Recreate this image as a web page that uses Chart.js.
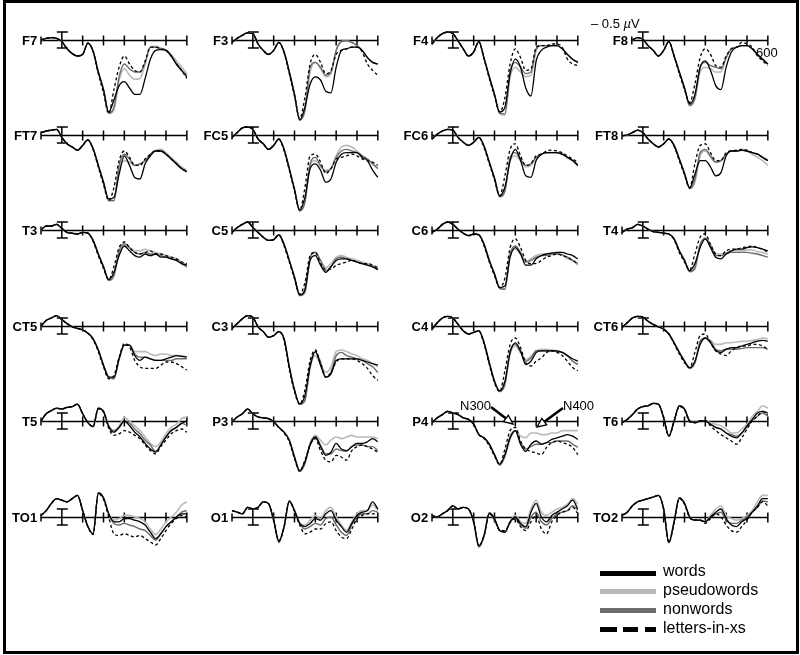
<!DOCTYPE html>
<html><head><meta charset="utf-8">
<script src="https://cdn.jsdelivr.net/npm/chart.js@4"></script>
<style>
html,body{margin:0;padding:0;background:#fff;}
#stage{position:relative;width:800px;height:655px;overflow:hidden;font-family:"Liberation Sans",Arial,Helvetica,sans-serif;color:#000;}
#frame{position:absolute;left:3px;top:0;width:796px;height:654px;border:3px solid #000;box-sizing:border-box;}
.panel{position:absolute;}
.lab{position:absolute;font-weight:bold;font-size:13px;line-height:13px;text-align:right;width:40px;white-space:nowrap;}
.txt{position:absolute;font-size:13px;line-height:13px;white-space:nowrap;}
.leg{position:absolute;font-size:16px;line-height:16px;white-space:nowrap;}
.sw{position:absolute;height:5px;}
svg{position:absolute;left:0;top:0;}
</style></head>
<body>
<div id="stage">
  <div id="frame"></div>
</div>
<script>
// ---------- data ----------
const times = [-100,-75,-50,-25,0,25,50,75,100,125,150,175,200,225,250,275,300,325,350,375,400,425,450,475,500,525,550,575,600];
const electrodes = ['F7','F3','F4','F8','FT7','FC5','FC6','FT8','T3','C5','C6','T4','CT5','C3','C4','CT6','T5','P3','P4','T6','TO1','O1','O2','TO2'];
const conditions = ['words','pseudowords','nonwords','letters-in-xs'];
const axisTicks = [100,200,300,400,500,600];
const scaleBarUV = 0.5;

// amplitudes in microvolts (negative up)
const F7_w = [0,-0.1,-0.15,-0.1,0.1,0.55,0.85,1.0,0.9,0.2,0.7,2.0,3.1,4.5,3.75,2.85,2.6,3.0,3.4,3.4,2.4,1.2,0.65,0.6,0.65,1.0,1.5,1.9,2.3];
const F7_p = [0,-0.1,-0.15,-0.1,0.1,0.55,0.85,1.0,0.9,0.2,0.7,2.0,3.1,4.6,4.4,2.5,1.8,2.2,2.45,2.4,1.5,0.45,0.4,0.5,0.6,0.9,1.3,1.7,2.1];
const F7_n = [0,-0.1,-0.15,-0.1,0.1,0.55,0.85,1.0,0.9,0.2,0.7,2.0,3.1,4.55,4.2,2.3,1.5,1.8,2.0,2.0,1.4,0.45,0.45,0.55,0.65,1.0,1.5,1.9,2.2];
const F7_l = [0,-0.1,-0.15,-0.1,0.1,0.55,0.85,1.0,0.9,0.2,0.7,2.1,3.3,4.6,3.1,1.7,1.0,1.5,1.9,2.0,1.3,0.45,0.45,0.55,0.65,1.0,1.5,1.9,2.4];

const F3_w = [0.15,-0.1,-0.3,-0.45,-0.4,0.25,0.65,0.9,0.65,0.15,0.75,2.0,3.4,5.0,4.2,2.75,2.3,2.5,3.2,3.3,1.7,0.65,0.55,0.45,0.45,0.65,1.1,1.4,1.5];
const F3_p = [0.15,-0.1,-0.3,-0.45,-0.4,0.25,0.65,0.9,0.65,0.15,0.75,2.0,3.4,5.0,4.4,2.0,1.4,1.8,2.3,2.1,0.65,0.1,0.05,0.15,0.35,0.65,1.1,1.4,1.5];
const F3_n = [0.15,-0.1,-0.3,-0.45,-0.4,0.25,0.65,0.9,0.65,0.15,0.75,2.0,3.4,5.0,4.4,1.7,1.4,1.7,2.2,2.0,0.65,0.1,0.05,0.15,0.35,0.65,1.1,1.4,1.5];
const F3_l = [0.15,-0.1,-0.3,-0.45,-0.4,0.25,0.65,0.9,0.65,0.15,0.8,2.1,3.5,4.9,3.6,1.5,0.9,1.4,2.1,1.9,0.9,0.65,0.55,0.45,0.45,0.75,1.5,1.9,2.2];

const F4_w = [0.25,-0.15,-0.4,-0.5,-0.4,0.05,0.55,1.0,0.75,0.1,1.15,2.3,3.4,4.5,4.2,2.1,1.2,1.7,3.0,3.5,1.3,0.65,0.45,0.35,0.35,0.55,0.9,1.2,1.4];
const F4_p = [0.25,-0.15,-0.4,-0.5,-0.4,0.05,0.55,1.0,0.75,0.1,1.15,2.3,3.4,4.6,4.7,2.3,1.7,2.0,2.3,2.2,0.65,0.35,0.35,0.35,0.35,0.55,0.9,1.2,1.4];
const F4_n = [0.25,-0.15,-0.4,-0.5,-0.4,0.05,0.55,1.0,0.75,0.1,1.15,2.3,3.4,4.6,4.6,2.0,1.4,1.7,2.1,2.0,0.55,0.35,0.35,0.35,0.35,0.55,0.9,1.2,1.4];
const F4_l = [0.25,-0.15,-0.4,-0.5,-0.4,0.05,0.55,1.0,0.75,0.1,1.2,2.4,3.5,4.5,3.6,1.5,0.55,1.1,1.9,1.8,0.45,0.35,0.35,0.25,0.25,0.45,1.2,1.5,1.6];

const F8_w = [null,null,0,-0.15,-0.05,0.35,0.65,1.0,0.65,0.1,1.0,2.0,3.0,4.0,3.4,1.7,1.3,1.9,2.85,3.1,1.7,0.75,0.45,0.35,0.35,0.55,0.9,1.2,1.5];
const F8_p = [null,null,0,-0.15,-0.05,0.35,0.65,1.0,0.65,0.1,1.0,2.0,3.0,4.1,3.7,2.0,1.7,1.8,2.0,2.0,1.1,0.55,0.45,0.35,0.35,0.55,0.9,1.2,1.5];
const F8_n = [null,null,0,-0.15,-0.05,0.35,0.65,1.0,0.65,0.1,1.0,2.0,3.0,4.1,3.6,1.7,1.4,1.6,1.7,1.8,1.1,0.55,0.45,0.35,0.35,0.55,0.9,1.2,1.5];
const F8_l = [null,null,0,-0.15,-0.05,0.35,0.65,1.0,0.65,0.1,1.0,2.1,3.1,3.9,2.75,1.1,0.55,0.9,1.6,1.7,1.0,0.55,0.45,0.15,0.25,0.45,1.0,1.3,1.6];

const FT7_w = [-0.15,-0.25,-0.3,-0.35,0.15,0.55,0.75,0.95,0.65,0.3,0.85,1.9,2.95,4.0,3.9,2.45,1.3,1.9,2.65,2.75,1.8,1.3,1.0,1.0,1.2,1.5,1.8,2.1,2.3];
const FT7_p = [-0.15,-0.25,-0.3,-0.35,0.15,0.55,0.75,0.95,0.65,0.3,0.85,1.9,2.95,4.1,4.1,2.2,1.6,1.7,1.9,1.8,1.6,1.2,0.95,0.9,1.1,1.4,1.7,2.0,2.2];
const FT7_n = [-0.15,-0.25,-0.3,-0.35,0.15,0.55,0.75,0.95,0.65,0.3,0.85,1.9,2.95,4.1,4.1,1.9,1.2,1.5,1.9,1.8,1.6,1.2,1.0,1.0,1.2,1.5,1.8,2.1,2.3];
const FT7_l = [-0.15,-0.25,-0.3,-0.35,0.15,0.55,0.75,0.95,0.65,0.3,0.9,2.0,3.1,4.1,3.3,1.6,1.0,1.4,1.9,1.9,1.5,1.2,1.0,1.0,1.2,1.5,1.8,2.1,2.3];

const FC5_w = [0.15,-0.15,-0.45,-0.5,-0.35,0.25,0.55,0.9,0.65,0.25,0.9,2.1,3.4,4.7,3.9,2.1,1.8,2.2,2.95,2.75,1.7,1.2,1.1,1.1,1.1,1.4,1.6,2.2,2.65];
const FC5_p = [0.15,-0.15,-0.45,-0.5,-0.35,0.25,0.55,0.9,0.65,0.25,0.9,2.1,3.4,4.75,4.2,1.9,1.6,2.0,2.2,2.1,1.3,0.75,0.65,0.75,1.0,1.3,1.5,1.8,2.1];
const FC5_n = [0.15,-0.15,-0.45,-0.5,-0.35,0.25,0.55,0.9,0.65,0.25,0.9,2.1,3.4,4.75,4.2,1.8,1.4,1.9,2.3,2.1,1.4,1.0,0.9,1.0,1.1,1.3,1.5,1.8,2.1];
const FC5_l = [0.15,-0.15,-0.45,-0.5,-0.35,0.25,0.55,0.9,0.65,0.25,1.0,2.2,3.5,4.7,3.3,1.3,1.2,1.7,2.4,2.1,1.5,1.4,1.3,1.2,1.3,1.5,1.6,1.7,1.9];

const FC6_w = [0.25,-0.05,-0.25,-0.35,-0.3,0.15,0.45,0.65,0.45,0.15,0.7,1.7,2.7,3.8,3.25,1.6,0.9,1.6,2.55,2.65,1.6,1.2,1.1,1.1,1.1,1.2,1.4,1.6,1.9];
const FC6_p = [0.25,-0.05,-0.25,-0.35,-0.3,0.15,0.45,0.65,0.45,0.15,0.7,1.7,2.7,3.85,3.5,1.6,1.3,1.6,2.0,1.9,1.4,1.2,1.1,1.1,1.1,1.2,1.4,1.6,1.8];
const FC6_n = [0.25,-0.05,-0.25,-0.35,-0.3,0.15,0.45,0.65,0.45,0.15,0.7,1.7,2.7,3.85,3.5,1.4,1.1,1.5,1.9,1.8,1.4,1.2,1.1,1.1,1.1,1.2,1.4,1.6,1.9];
const FC6_l = [0.25,-0.05,-0.25,-0.35,-0.3,0.15,0.45,0.65,0.45,0.15,0.8,1.8,2.8,3.8,2.55,0.9,0.55,1.3,1.9,1.8,1.3,1.2,1.0,0.95,1.0,1.1,1.3,1.5,1.7];

const FT8_w = [0.05,0,-0.15,-0.3,-0.15,0.25,0.55,0.75,0.55,0.25,0.65,1.5,2.4,3.3,2.45,1.6,1.6,2.0,2.55,2.35,1.3,1.0,1.0,0.95,1.0,1.1,1.2,1.4,1.6];
const FT8_p = [0.05,0,-0.15,-0.3,-0.15,0.25,0.55,0.75,0.55,0.25,0.65,1.5,2.4,3.35,2.95,1.3,1.0,1.4,1.7,1.6,1.2,1.0,1.0,0.95,1.0,1.2,1.4,1.6,1.9];
const FT8_n = [0.05,0,-0.15,-0.3,-0.15,0.25,0.55,0.75,0.55,0.25,0.65,1.5,2.4,3.35,2.75,1.1,0.9,1.3,1.7,1.6,1.2,1.0,1.0,0.95,1.0,1.1,1.2,1.4,1.6];
const FT8_l = [0.05,0,-0.15,-0.3,-0.15,0.25,0.55,0.75,0.55,0.25,0.7,1.6,2.5,3.3,1.8,0.65,0.55,1.1,1.6,1.6,1.1,1.0,0.95,0.9,0.95,1.1,1.2,1.4,1.6];

const T3_w = [0,-0.25,-0.25,-0.35,-0.1,0.15,0.2,0.25,0.15,0.2,0.65,1.5,2.3,3.1,2.65,1.6,1.0,1.3,1.6,1.7,1.5,1.6,1.5,1.7,1.7,1.8,1.9,2.1,2.2];
const T3_p = [0,-0.25,-0.25,-0.35,-0.1,0.15,0.2,0.25,0.15,0.2,0.65,1.5,2.3,3.15,2.85,1.5,0.9,1.1,1.3,1.3,1.2,1.3,1.4,1.5,1.6,1.7,1.8,2.0,2.2];
const T3_n = [0,-0.25,-0.25,-0.35,-0.1,0.15,0.2,0.25,0.15,0.2,0.65,1.5,2.3,3.15,2.85,1.3,0.85,1.1,1.4,1.5,1.4,1.5,1.5,1.6,1.7,1.8,1.9,2.1,2.3];
const T3_l = [0,-0.25,-0.25,-0.35,-0.1,0.15,0.2,0.25,0.15,0.2,0.7,1.6,2.4,3.1,2.3,1.1,0.75,1.1,1.4,1.5,1.4,1.3,1.5,1.5,1.6,1.7,1.8,2.0,2.1];

const C5_w = [0.15,-0.15,-0.35,-0.5,-0.15,0.15,0.45,0.65,0.6,0.3,0.9,1.9,2.95,4.05,3.7,1.9,1.6,2.2,2.65,2.3,1.9,1.8,1.8,1.9,2.0,2.1,2.2,2.3,2.45];
const C5_p = [0.15,-0.15,-0.35,-0.5,-0.15,0.15,0.45,0.65,0.6,0.3,0.9,1.9,2.95,4.1,3.9,1.8,1.4,1.9,2.35,2.1,1.7,1.6,1.7,1.8,1.9,2.0,2.1,2.2,2.4];
const C5_n = [0.15,-0.15,-0.35,-0.5,-0.15,0.15,0.45,0.65,0.6,0.3,0.9,1.9,2.95,4.1,3.9,1.7,1.4,1.9,2.55,2.3,1.8,1.7,1.8,1.9,2.0,2.1,2.2,2.3,2.5];
const C5_l = [0.15,-0.15,-0.35,-0.5,-0.15,0.15,0.45,0.65,0.6,0.3,1.0,2.0,3.05,4.0,3.3,1.6,1.4,2.1,2.45,2.45,2.2,2.1,2.0,1.9,2.0,2.1,2.1,2.2,2.35];

const C6_w = [0.15,-0.05,-0.35,-0.5,-0.35,-0.05,0.2,0.35,0.25,0.3,0.9,1.9,2.75,3.6,3.5,1.7,1.1,1.5,2.2,2.2,1.8,1.6,1.5,1.45,1.4,1.4,1.5,1.6,1.8];
const C6_p = [0.15,-0.05,-0.35,-0.5,-0.35,-0.05,0.2,0.35,0.25,0.3,0.9,1.9,2.75,3.65,3.7,1.6,1.2,1.5,2.0,1.8,1.6,1.5,1.5,1.45,1.5,1.55,1.8,1.9,2.2];
const C6_n = [0.15,-0.05,-0.35,-0.5,-0.35,-0.05,0.2,0.35,0.25,0.3,0.9,1.9,2.75,3.65,3.7,1.5,1.0,1.4,2.0,1.9,1.7,1.6,1.6,1.5,1.5,1.55,1.7,1.9,2.1];
const C6_l = [0.15,-0.05,-0.35,-0.5,-0.35,-0.05,0.2,0.35,0.25,0.3,1.0,2.0,2.85,3.6,3.0,1.1,0.55,1.1,1.9,2.1,2.1,1.9,1.7,1.6,1.5,1.6,1.7,1.9,2.1];

const T4_w = [0.15,-0.05,-0.15,-0.35,-0.25,-0.05,0.1,0.15,0.2,0.25,0.55,1.3,1.9,2.55,2.1,1.1,0.55,1.1,1.7,1.8,1.5,1.3,1.2,1.2,1.1,1.05,1.1,1.2,1.3];
const T4_p = [0.15,-0.05,-0.15,-0.35,-0.25,-0.05,0.1,0.15,0.2,0.25,0.55,1.3,1.9,2.6,2.45,1.0,0.45,0.9,1.5,1.5,1.4,1.3,1.3,1.3,1.25,1.25,1.35,1.4,1.5];
const T4_n = [0.15,-0.05,-0.15,-0.35,-0.25,-0.05,0.1,0.15,0.2,0.25,0.55,1.3,1.9,2.6,2.35,0.9,0.55,1.0,1.6,1.6,1.5,1.4,1.4,1.4,1.4,1.45,1.5,1.6,1.7];
const T4_l = [0.15,-0.05,-0.15,-0.35,-0.25,-0.05,0.1,0.15,0.2,0.25,0.6,1.4,2.0,2.5,1.5,0.45,0.25,0.9,1.5,1.6,1.3,1.2,1.2,1.1,1.05,1.0,1.1,1.2,1.4];

const CT5_w = [0,-0.35,-0.5,-0.65,-0.4,-0.15,0.05,0.15,0.25,0.45,0.8,1.5,2.45,3.2,3.2,2.05,1.2,1.2,1.85,2.15,1.95,2.05,2.15,2.15,2.05,1.95,1.85,1.9,1.95];
const CT5_p = [0,-0.35,-0.5,-0.65,-0.4,-0.15,0.05,0.15,0.25,0.45,0.8,1.5,2.45,3.2,3.3,2.05,1.2,1.2,1.6,1.6,1.6,1.75,1.85,1.75,1.75,1.85,1.85,1.85,1.95];
const CT5_n = [0,-0.35,-0.5,-0.65,-0.4,-0.15,0.05,0.15,0.25,0.45,0.8,1.5,2.45,3.2,3.3,2.05,1.2,1.2,1.75,1.95,1.95,2.05,2.15,2.15,2.15,2.15,2.05,2.05,2.05];
const CT5_l = [0,-0.35,-0.5,-0.65,-0.4,-0.15,0.05,0.15,0.25,0.45,0.85,1.6,2.55,3.3,3.1,1.95,1.1,1.3,2.15,2.55,2.65,2.65,2.65,2.45,2.25,2.25,2.35,2.55,2.75];

const C3_w = [0.15,-0.15,-0.45,-0.65,-0.55,0.05,0.35,0.7,0.6,0.35,0.8,2.55,4.0,4.85,4.35,2.55,1.6,2.45,3.2,3.0,2.15,2.05,2.05,2.05,2.05,2.15,2.25,2.35,2.45];
const C3_p = [0.15,-0.15,-0.45,-0.65,-0.55,0.05,0.35,0.7,0.6,0.35,0.8,2.55,4.0,4.9,4.65,2.55,1.85,2.4,2.9,2.55,1.6,1.5,1.6,1.75,1.85,2.05,2.15,2.35,2.55];
const C3_n = [0.15,-0.15,-0.45,-0.65,-0.55,0.05,0.35,0.7,0.6,0.35,0.8,2.55,4.0,4.9,4.65,2.4,1.6,2.25,3.2,2.9,1.85,1.65,1.85,1.95,2.05,2.15,2.35,2.55,2.9];
const C3_l = [0.15,-0.15,-0.45,-0.65,-0.55,0.05,0.35,0.7,0.6,0.35,0.9,2.7,4.1,4.9,4.0,2.15,1.5,2.35,3.2,2.9,2.25,2.05,2.05,2.05,2.15,2.35,2.65,3.1,3.4];

const C4_w = [0.2,-0.2,-0.5,-0.6,-0.5,-0.1,0.3,0.5,0.4,0.3,1.05,2.3,3.45,4.05,3.45,1.65,1.05,1.55,2.4,2.2,1.65,1.55,1.55,1.55,1.55,1.65,1.85,2.05,2.2];
const C4_p = [0.2,-0.2,-0.5,-0.6,-0.5,-0.1,0.3,0.5,0.4,0.3,1.05,2.3,3.45,4.1,3.65,1.75,1.25,1.65,2.1,1.9,1.55,1.45,1.45,1.5,1.55,1.65,1.85,2.2,2.4];
const C4_n = [0.2,-0.2,-0.5,-0.6,-0.5,-0.1,0.3,0.5,0.4,0.3,1.05,2.3,3.45,4.1,3.65,1.55,1.15,1.65,2.2,2.0,1.55,1.55,1.55,1.55,1.6,1.65,1.85,2.2,2.4];
const C4_l = [0.2,-0.2,-0.5,-0.6,-0.5,-0.1,0.3,0.5,0.4,0.3,1.15,2.4,3.55,4.1,2.8,1.15,0.75,1.35,2.3,2.5,2.2,2.0,1.65,1.55,1.65,1.85,2.2,2.6,2.8];

const CT6_w = [0.1,-0.2,-0.5,-0.6,-0.55,-0.3,-0.1,0.05,0.2,0.5,1.05,1.65,2.2,2.6,2.2,1.15,0.75,1.05,1.55,1.65,1.45,1.35,1.35,1.25,1.15,1.05,0.95,0.9,0.95];
const CT6_p = [0.1,-0.2,-0.5,-0.6,-0.55,-0.3,-0.1,0.05,0.2,0.5,1.05,1.65,2.2,2.65,2.3,1.05,0.75,0.9,1.15,1.15,1.05,1.05,1.0,0.95,0.95,0.9,0.85,0.75,0.8];
const CT6_n = [0.1,-0.2,-0.5,-0.6,-0.55,-0.3,-0.1,0.05,0.2,0.5,1.05,1.65,2.2,2.65,2.3,0.95,0.75,0.95,1.45,1.55,1.45,1.45,1.45,1.4,1.35,1.35,1.35,1.35,1.45];
const CT6_l = [0.1,-0.2,-0.5,-0.6,-0.55,-0.3,-0.1,0.05,0.2,0.5,1.1,1.75,2.3,2.6,1.65,0.6,0.5,1.05,1.55,1.75,1.85,1.55,1.35,1.25,1.25,1.15,1.15,1.25,1.45];

const T5_w = [0,-0.45,-0.65,-0.8,-0.75,-0.85,-0.9,-1.05,-0.45,0.1,0.35,-0.8,-0.6,0.35,0.7,0.4,0.0,0.3,0.7,1.0,1.4,1.75,1.95,1.5,1.0,0.6,0.4,0.15,0.0];
const T5_p = [0,-0.45,-0.65,-0.8,-0.75,-0.85,-0.9,-1.05,-0.45,0.1,0.35,-0.8,-0.6,0.3,0.6,0.3,-0.2,0.0,0.3,0.6,1.0,1.4,1.6,1.3,0.8,0.4,0.2,-0.15,-0.25];
const T5_n = [0,-0.45,-0.65,-0.8,-0.75,-0.85,-0.9,-1.05,-0.45,0.1,0.35,-0.8,-0.6,0.3,0.6,0.4,0.0,0.15,0.5,0.8,1.2,1.5,1.9,1.5,1.0,0.6,0.4,0.15,0.25];
const T5_l = [0,-0.45,-0.65,-0.8,-0.75,-0.85,-0.9,-1.05,-0.45,0.1,0.35,-0.75,-0.55,0.45,0.9,0.8,0.6,0.7,0.9,1.1,1.5,1.85,2.05,1.6,1.2,0.8,0.6,0.5,0.7];

const P3_w = [0.05,-0.25,-0.45,-0.75,-0.45,-0.25,-0.2,-0.15,0.05,0.4,0.7,1.2,2.25,3.1,2.55,1.5,1.0,1.6,2.15,1.95,1.4,1.75,1.85,1.6,1.4,1.4,1.3,1.1,1.3];
const P3_p = [0.05,-0.25,-0.45,-0.75,-0.45,-0.25,-0.2,-0.15,0.05,0.4,0.7,1.2,2.25,3.15,2.65,1.4,0.9,1.2,1.5,1.2,1.0,1.1,1.0,0.9,1.0,1.0,1.0,1.0,1.1];
const P3_n = [0.05,-0.25,-0.45,-0.75,-0.45,-0.25,-0.2,-0.15,0.05,0.4,0.7,1.2,2.25,3.15,2.65,1.4,1.0,1.5,2.05,2.05,1.75,1.85,1.9,1.6,1.5,1.5,1.6,1.6,1.85];
const P3_l = [0.05,-0.25,-0.45,-0.75,-0.45,-0.25,-0.2,-0.15,0.05,0.4,0.75,1.3,2.35,3.15,2.45,1.5,1.1,1.85,2.45,2.55,2.15,2.25,2.45,1.85,1.6,1.5,1.6,1.75,1.95];

const P4_w = [0.1,-0.2,-0.4,-0.6,-0.5,-0.4,-0.2,-0.1,0.2,0.85,1.05,1.45,2.1,2.7,2.1,1.05,0.6,1.45,1.9,1.45,1.25,1.45,1.35,1.15,1.05,0.95,0.85,0.95,1.15];
const P4_p = [0.1,-0.2,-0.4,-0.6,-0.5,-0.4,-0.2,-0.1,0.2,0.85,1.05,1.45,2.1,2.75,2.2,1.15,0.6,0.95,1.05,0.75,0.75,0.85,0.85,0.75,0.75,0.6,0.6,0.6,0.6];
const P4_n = [0.1,-0.2,-0.4,-0.6,-0.5,-0.4,-0.2,-0.1,0.2,0.85,1.05,1.45,2.1,2.75,2.2,0.95,0.6,1.35,1.75,1.6,1.45,1.45,1.35,1.35,1.25,1.25,1.25,1.45,1.65];
const P4_l = [0.1,-0.2,-0.4,-0.6,-0.5,-0.4,-0.2,-0.1,0.2,0.85,1.1,1.55,2.2,2.7,1.75,0.6,0.4,1.25,1.75,1.9,2.0,2.1,1.65,1.35,1.25,1.35,1.45,1.65,2.1];

const T6_w = [0.1,-0.1,-0.4,-0.75,-0.9,-0.95,-1.1,-1.05,-0.2,0.95,0.0,-0.95,-0.75,0.0,0.1,0.0,0.0,0.2,0.4,0.5,0.75,0.95,1.05,0.75,0.3,-0.1,-0.5,-0.6,-0.5];
const T6_p = [0.1,-0.1,-0.4,-0.75,-0.9,-0.95,-1.1,-1.05,-0.2,0.95,0.0,-0.95,-0.75,0.0,0.1,0.0,0.0,0.1,0.2,0.3,0.5,0.75,0.75,0.5,0.2,-0.3,-0.6,-0.95,-0.8];
const T6_n = [0.1,-0.1,-0.4,-0.75,-0.9,-0.95,-1.1,-1.05,-0.2,0.95,0.0,-0.95,-0.75,0.0,0.1,0.0,0.0,0.2,0.4,0.5,0.75,0.85,0.95,0.75,0.4,0.0,-0.3,-0.5,-0.3];
const T6_l = [0.1,-0.1,-0.4,-0.75,-0.9,-0.95,-1.1,-1.05,-0.2,0.95,0.05,-0.9,-0.7,0.05,0.1,0.0,0.0,0.3,0.6,0.85,1.05,1.25,1.45,1.05,0.5,0.0,-0.3,-0.6,-0.4];

const TO1_w = [-0.1,-0.4,-0.85,-1.15,-1.05,-0.95,-1.15,-1.35,-0.4,0.6,1.05,-1.5,-1.2,-0.2,0.3,0.3,0.1,0.1,0.2,0.3,0.5,0.95,1.35,1.05,0.6,0.3,0.0,-0.2,-0.2];
const TO1_p = [-0.1,-0.4,-0.85,-1.15,-1.05,-0.95,-1.15,-1.35,-0.4,0.6,1.05,-1.5,-1.2,-0.2,0.2,0.1,-0.1,-0.1,0.0,0.1,0.3,0.75,1.1,0.75,0.3,0.0,-0.3,-0.75,-0.95];
const TO1_n = [-0.1,-0.4,-0.85,-1.15,-1.05,-0.95,-1.15,-1.35,-0.4,0.6,1.05,-1.5,-1.2,-0.2,0.4,0.5,0.4,0.5,0.6,0.75,0.85,1.15,1.45,1.05,0.6,0.3,0.0,-0.3,-0.4];
const TO1_l = [-0.1,-0.4,-0.85,-1.15,-1.05,-0.95,-1.15,-1.35,-0.4,0.6,1.1,-1.45,-1.1,0.0,1.05,1.15,1.05,1.15,1.25,1.15,1.35,1.55,1.75,1.35,0.85,0.4,0.1,-0.1,0.0];

const O1_w = [-0.4,-0.3,-0.2,-0.6,-0.5,-0.6,-0.95,-0.85,0.2,1.5,0.6,-1.0,-0.4,0.4,0.6,0.4,0.1,0.2,-0.2,-0.4,0.2,0.6,0.95,0.4,-0.1,-0.3,-0.4,-0.95,-0.5];
const O1_p = [-0.4,-0.3,-0.2,-0.6,-0.5,-0.6,-0.95,-0.85,0.2,1.5,0.6,-1.0,-0.4,0.4,0.5,0.2,-0.1,0.1,-0.4,-0.6,0.0,0.5,0.85,0.3,-0.2,-0.4,-0.4,-0.75,-0.4];
const O1_n = [-0.4,-0.3,-0.2,-0.6,-0.5,-0.6,-0.95,-0.85,0.2,1.6,0.6,-1.0,-0.4,0.4,0.75,0.6,0.4,0.5,0.1,0.0,0.5,0.95,1.15,0.5,0.0,-0.2,-0.2,-0.4,-0.3];
const O1_l = [-0.4,-0.3,-0.2,-0.6,-0.5,-0.6,-0.95,-0.85,0.2,1.5,0.65,-0.95,-0.35,0.5,1.05,0.95,0.75,0.75,0.4,0.3,0.85,1.25,1.35,0.75,0.1,-0.1,-0.2,-0.2,-0.2];

const O2_w = [-0.1,0,-0.2,-0.4,-0.7,-0.5,-0.6,-0.5,0.3,1.8,1.15,-0.25,0.1,0.85,0.95,0.3,0.0,0.4,0.6,-0.3,-0.85,0.0,0.3,-0.1,-0.3,-0.5,-0.7,-1.05,-0.5];
const O2_p = [-0.1,0,-0.2,-0.4,-0.7,-0.5,-0.6,-0.5,0.3,1.8,1.15,-0.25,0.1,0.85,0.95,0.3,-0.1,0.3,0.4,-0.5,-1.05,-0.3,-0.1,-0.3,-0.5,-0.6,-0.8,-1.15,-0.8];
const O2_n = [-0.1,0,-0.2,-0.4,-0.7,-0.5,-0.6,-0.5,0.3,1.9,1.2,-0.2,0.15,0.85,0.95,0.3,0.1,0.5,0.7,0.0,-0.3,0.3,0.5,0.1,-0.2,-0.3,-0.4,-0.7,-0.4];
const O2_l = [-0.1,0,-0.2,-0.4,-0.7,-0.5,-0.6,-0.5,0.3,1.8,1.15,-0.2,0.15,0.85,0.85,0.35,0.1,0.6,0.85,0.3,-0.1,0.75,1.05,0.3,-0.1,-0.3,-0.4,-0.6,-0.2];

const TO2_w = [-0.1,-0.3,-0.7,-0.95,-1.05,-1.15,-1.25,-1.35,-0.5,1.6,0.3,-1.2,-0.85,0.0,0.2,0.2,0.3,0.0,-0.3,-0.5,0.1,0.5,0.6,0.3,0.1,-0.3,-0.7,-1.15,-1.15];
const TO2_p = [-0.1,-0.3,-0.7,-0.95,-1.05,-1.15,-1.25,-1.35,-0.5,1.6,0.3,-1.2,-0.85,0.0,0.2,0.2,0.3,-0.1,-0.5,-0.7,-0.1,0.1,0.2,0.1,-0.1,-0.4,-0.95,-1.35,-1.35];
const TO2_n = [-0.1,-0.3,-0.7,-0.95,-1.05,-1.15,-1.25,-1.35,-0.5,1.6,0.3,-1.2,-0.85,0.0,0.2,0.2,0.3,0.0,-0.2,-0.3,0.2,0.4,0.4,0.2,0.0,-0.3,-0.6,-1.0,-0.95];
const TO2_l = [-0.1,-0.3,-0.7,-0.95,-1.05,-1.15,-1.25,-1.35,-0.5,1.6,0.35,-1.15,-0.8,0.05,0.2,0.2,0.4,0.1,-0.2,0.0,0.5,0.85,0.95,0.6,0.2,-0.3,-0.6,-0.95,-0.7];

// ---------- table built from the arrays ----------
const SERIES = {
  F7:[F7_w,F7_p,F7_n,F7_l], F3:[F3_w,F3_p,F3_n,F3_l], F4:[F4_w,F4_p,F4_n,F4_l], F8:[F8_w,F8_p,F8_n,F8_l],
  FT7:[FT7_w,FT7_p,FT7_n,FT7_l], FC5:[FC5_w,FC5_p,FC5_n,FC5_l], FC6:[FC6_w,FC6_p,FC6_n,FC6_l], FT8:[FT8_w,FT8_p,FT8_n,FT8_l],
  T3:[T3_w,T3_p,T3_n,T3_l], C5:[C5_w,C5_p,C5_n,C5_l], C6:[C6_w,C6_p,C6_n,C6_l], T4:[T4_w,T4_p,T4_n,T4_l],
  CT5:[CT5_w,CT5_p,CT5_n,CT5_l], C3:[C3_w,C3_p,C3_n,C3_l], C4:[C4_w,C4_p,C4_n,C4_l], CT6:[CT6_w,CT6_p,CT6_n,CT6_l],
  T5:[T5_w,T5_p,T5_n,T5_l], P3:[P3_w,P3_p,P3_n,P3_l], P4:[P4_w,P4_p,P4_n,P4_l], T6:[T6_w,T6_p,T6_n,T6_l],
  TO1:[TO1_w,TO1_p,TO1_n,TO1_l], O1:[O1_w,O1_p,O1_n,O1_l], O2:[O2_w,O2_p,O2_n,O2_l], TO2:[TO2_w,TO2_p,TO2_n,TO2_l]
};

// ---------- layout & style ----------
const colZero = [62, 253, 453, 643];
const rowAxis = [40, 135, 230, 326, 421, 517];
const PX_PER_MS = 125 / 600;
const PX_PER_UV = 16;
const X_MIN = -124, X_MAX = 620, Y_MIN = -2.5, Y_MAX = 6;
const axisStart = {F8: -53};
const styles = [
  {color:'#000000', width:1.3, dash:[]},        // words
  {color:'#b9b9b9', width:1.6, dash:[]},        // pseudowords
  {color:'#6c6c6c', width:1.4, dash:[]},        // nonwords
  {color:'#000000', width:1.3, dash:[3,2.5]}    // letters-in-xs
];
const drawOrder = [0, 3, 2, 1]; // first = on top

const erpAxes = {
  id: 'erpAxes',
  beforeDatasetsDraw(chart, args, opts) {
    const {ctx} = chart; const x = chart.scales.x, y = chart.scales.y;
    const y0 = Math.round(y.getPixelForValue(0)) + 0.5;
    const xs = x.getPixelForValue(opts.start), xe = x.getPixelForValue(600);
    ctx.save();
    ctx.strokeStyle = '#000'; ctx.lineWidth = 1.5; ctx.setLineDash([]);
    ctx.beginPath();
    ctx.moveTo(xs, y0); ctx.lineTo(xe, y0);
    ctx.moveTo(xs, y0 - 4); ctx.lineTo(xs, y0 + 4);
    axisTicks.forEach(t => { const xp = x.getPixelForValue(t); ctx.moveTo(xp, y0 - 5); ctx.lineTo(xp, y0 + 5); });
    const xb = x.getPixelForValue(0);
    const yt = y.getPixelForValue(-scaleBarUV), yb = y.getPixelForValue(scaleBarUV);
    ctx.moveTo(xb, yt); ctx.lineTo(xb, yb);
    ctx.moveTo(xb - 5, yt); ctx.lineTo(xb + 6, yt);
    ctx.moveTo(xb - 5, yb); ctx.lineTo(xb + 6, yb);
    ctx.stroke();
    ctx.restore();
  }
};

const stage = document.getElementById('stage');
const W = Math.round((X_MAX - X_MIN) * PX_PER_MS);
const H = Math.round((Y_MAX - Y_MIN) * PX_PER_UV);

electrodes.forEach((name, i) => {
  const col = i % 4, row = Math.floor(i / 4);
  const left = colZero[col] + X_MIN * PX_PER_MS;
  const top = rowAxis[row] + Y_MIN * PX_PER_UV;
  const start = axisStart[name] !== undefined ? axisStart[name] : -100;

  const div = document.createElement('div');
  div.className = 'panel';
  div.style.left = left + 'px'; div.style.top = top + 'px';
  div.style.width = W + 'px'; div.style.height = H + 'px';
  const cv = document.createElement('canvas');
  cv.width = W; cv.height = H;
  div.appendChild(cv);
  stage.appendChild(div);

  const lab = document.createElement('div');
  lab.className = 'lab';
  lab.textContent = name;
  const leftEnd = colZero[col] + start * PX_PER_MS;
  lab.style.left = (leftEnd - 4 - 40) + 'px';
  lab.style.top = (rowAxis[row] - 6.5) + 'px';
  stage.appendChild(lab);

  const datasets = drawOrder.map(k => ({
    label: conditions[k],
    data: times.map((t, j) => ({x: t, y: SERIES[name][k][j]})),
    borderColor: styles[k].color,
    borderWidth: styles[k].width,
    borderDash: styles[k].dash,
    pointRadius: 0,
    fill: false,
    cubicInterpolationMode: 'monotone',
    spanGaps: false,
    clip: false
  }));

  new Chart(cv, {
    type: 'line',
    data: {datasets},
    options: {
      responsive: false,
      animation: false,
      events: [],
      layout: {padding: 0},
      scales: {
        x: {type: 'linear', min: X_MIN, max: X_MAX, display: false},
        y: {type: 'linear', min: Y_MIN, max: Y_MAX, reverse: true, display: false}
      },
      plugins: {legend: {display: false}, tooltip: {enabled: false}, erpAxes: {start}}
    },
    plugins: [erpAxes]
  });
});

// ---------- annotations ----------
function addText(cls, html, left, top) {
  const d = document.createElement('div');
  d.className = cls; d.innerHTML = html;
  d.style.left = left + 'px'; d.style.top = top + 'px';
  stage.appendChild(d);
}
addText('txt', '\u2013 0.5 <i>\u00b5</i>V', 591, 17);
addText('txt', '600', 756, 46);
addText('txt', 'N300', 460, 399);
addText('txt', 'N400', 563, 399);

const svgNS = 'http://www.w3.org/2000/svg';
const svg = document.createElementNS(svgNS, 'svg');
svg.setAttribute('width', 800); svg.setAttribute('height', 655);
svg.innerHTML =
  '<line x1="491" y1="407" x2="506" y2="418.5" stroke="#000" stroke-width="2.6"/>' +
  '<polygon points="513,424 503.5,421.7 508.3,415.3" fill="#fff" stroke="#000" stroke-width="1.3"/>' +
  '<line x1="563" y1="408" x2="544.3" y2="421.7" stroke="#000" stroke-width="2.6"/>' +
  '<polygon points="537,427 541.9,418.5 546.7,424.9" fill="#fff" stroke="#000" stroke-width="1.3"/>';
stage.appendChild(svg);

// ---------- legend ----------
const legendTop = [571, 588.5, 607.5, 626.5];
const legendTextTop = [562.5, 581.5, 600.5, 619.5];
conditions.forEach((c, k) => {
  if (styles[k].dash.length === 0) {
    const s = document.createElement('div');
    s.className = 'sw';
    s.style.left = '600px'; s.style.top = legendTop[k] + 'px'; s.style.width = '56px';
    s.style.background = styles[k].color;
    stage.appendChild(s);
  } else {
    [[600,17],[623,15],[645,11]].forEach(([x0,w]) => {
      const s = document.createElement('div');
      s.className = 'sw';
      s.style.left = x0 + 'px'; s.style.top = legendTop[k] + 'px'; s.style.width = w + 'px';
      s.style.background = styles[k].color;
      stage.appendChild(s);
    });
  }
  addText('leg', c, 663, legendTextTop[k]);
});
</script>
</body></html>
